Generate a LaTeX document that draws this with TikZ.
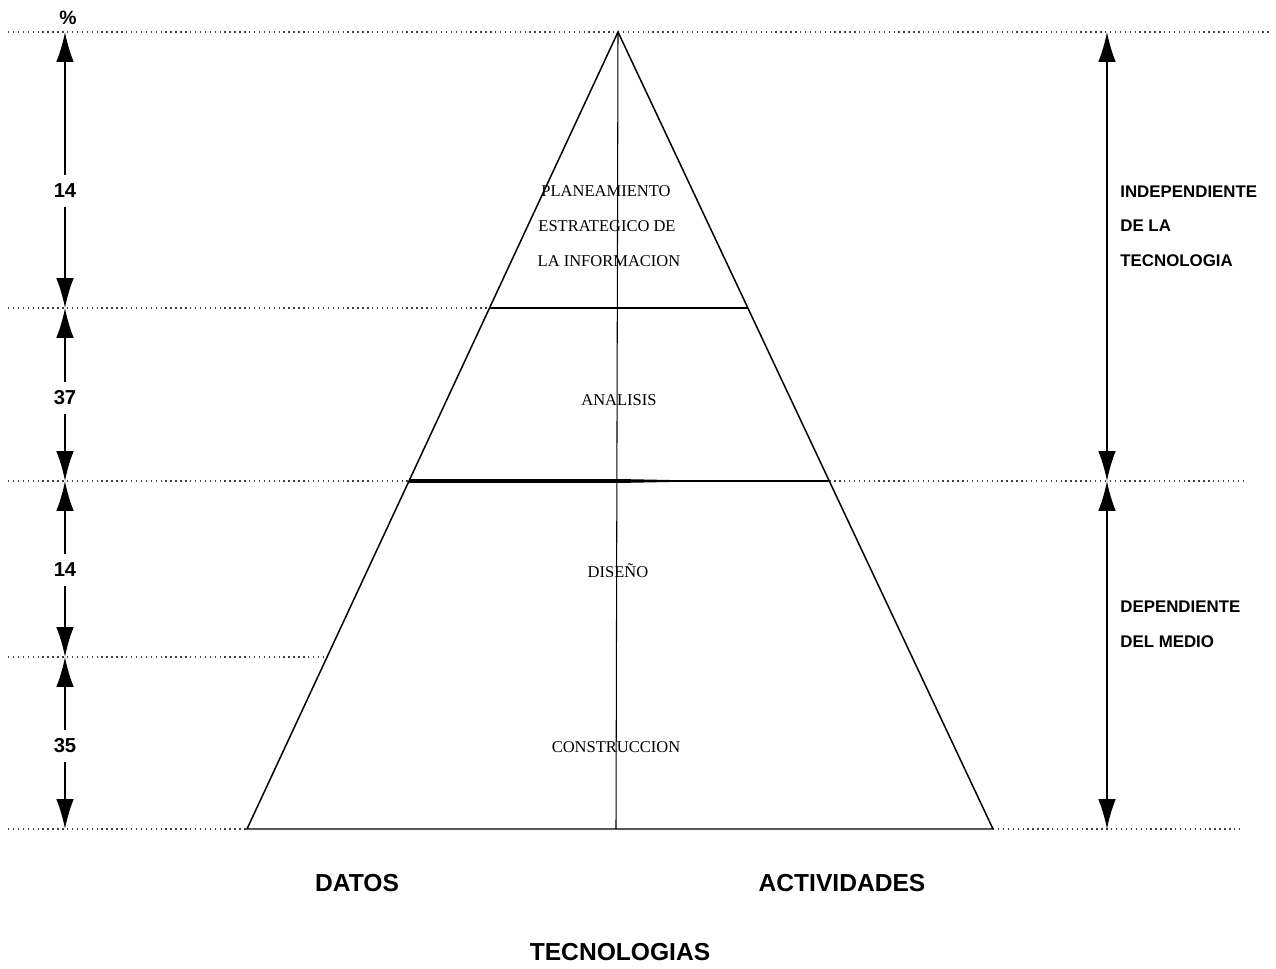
\documentclass[tikz,border=0pt]{standalone}
\usepackage{fontspec}
\setmainfont{Liberation Serif}
\setsansfont{Liberation Sans}
\usepackage{tikz}
\usetikzlibrary{arrows.meta,positioning}

\begin{document}
\begin{tikzpicture}[x=0.02cm, y=-0.02cm, >={Latex[length=17pt,width=10pt]},
  guide/.style={dotted, line width=0.8pt, black!75},
  side/.style={line width=0.85pt},
  dim/.style={line width=0.9pt},
  pct/.style={font=\sffamily\bfseries\fontsize{11.5}{14}\selectfont, inner sep=5pt},
  stage/.style={font=\fontsize{9.4}{11}\selectfont, anchor=base, inner sep=0pt},
  zone/.style={font=\sffamily\bfseries\fontsize{9.6}{12}\selectfont, anchor=base west, inner sep=0pt},
  axis/.style={font=\sffamily\bfseries\fontsize{14}{16}\selectfont, anchor=base}]
  \useasboundingbox (0,0) rectangle (1276,969);

  % Define nodes
  \coordinate (apex) at (618,32);
  \coordinate (baseL) at (247,829);
  \coordinate (baseR) at (993,829);
  \coordinate (baseC) at (616,829);
  \coordinate (anaL) at (489.5,308);
  \coordinate (anaR) at (747.9,308);
  \coordinate (disL) at (409,481);
  \coordinate (disC) at (618,481);
  \coordinate (disR) at (829.3,481);
  \coordinate (conL) at (327.1,657);

  % guide lines
  \draw[guide] (8,32) -- (1270,32);
  \draw[guide] (8,308) -- (anaL);
  \draw[guide] (8,481) -- (disL);
  \draw[guide] (disR) -- (1245,481);
  \draw[guide] (8,657) -- (conL);
  \draw[guide] (8,829) -- (baseL);
  \draw[guide] (baseR) -- (1240,829);

  % Pyramid
  \draw[side] (baseL) -- (apex) -- (baseR) -- cycle;
  \draw[line width=0.6pt] (apex) -- (baseC);
  \draw[side] (anaL) -- (anaR);
  \draw[line width=2pt] (disL) -- (disC);
  \fill (disC) ++(0,-2) -- (690,480.4) -- (690,481.6) -- (618,483) -- cycle;
  \draw[side] (disC) -- (disR);

  \node[stage] (plan1) at (606,197) {PLANEAMIENTO};
  \node[stage] (plan2) at (607,232) {ESTRATEGICO DE};
  \node[stage] (plan3) at (609,267) {LA INFORMACION};
  \node[stage] (ana) at (619,406) {ANALISIS};
  \node[stage] (dis) at (618,578) {DISEÑO};
  \node[stage] (con) at (616,753) {CONSTRUCCION};

  % Left scale
  \node[font=\sffamily\bfseries\fontsize{11}{13}\selectfont] (pc) at (68,18) {\%};
  \coordinate (m0) at (65,32);
  \coordinate (m1) at (65,308);
  \coordinate (m2) at (65,481);
  \coordinate (m3) at (65,657);
  \coordinate (m4) at (65,829);
  \node[pct] (v1) at (65,191) {14};
  \node[pct] (v2) at (65,398) {37};
  \node[pct] (v3) at (65,570) {14};
  \node[pct] (v4) at (65,746) {35};

  % Draw arrows
  \draw[dim,->] (v1) -- (m0);
  \draw[dim,->] (v1) -- (m1);
  \draw[dim,->] (v2) -- (m1);
  \draw[dim,->] (v2) -- (m2);
  \draw[dim,->] (v3) -- (m2);
  \draw[dim,->] (v3) -- (m3);
  \draw[dim,->] (v4) -- (m3);
  \draw[dim,->] (v4) -- (m4);

  % Right scale
  \coordinate (r0) at (1107,32);
  \coordinate (r2) at (1107,481);
  \coordinate (r4) at (1107,829);
  \draw[dim,<->] (r0) -- (r2);
  \draw[dim,<->] (r2) -- (r4);
  \node[zone] (ind1) at (1120,198) {INDEPENDIENTE};
  \node[zone] (ind2) at (1120,232) {DE LA};
  \node[zone] (ind3) at (1120,267) {TECNOLOGIA};
  \node[zone] (dep1) at (1120,613) {DEPENDIENTE};
  \node[zone] (dep2) at (1120,648) {DEL MEDIO};

  % Bottom
  \node[axis] (datos) at (357,891) {DATOS};
  \node[axis] (act) at (842,891) {ACTIVIDADES};
  \node[axis] (tec) at (620,960) {TECNOLOGIAS};
\end{tikzpicture}
\end{document}
